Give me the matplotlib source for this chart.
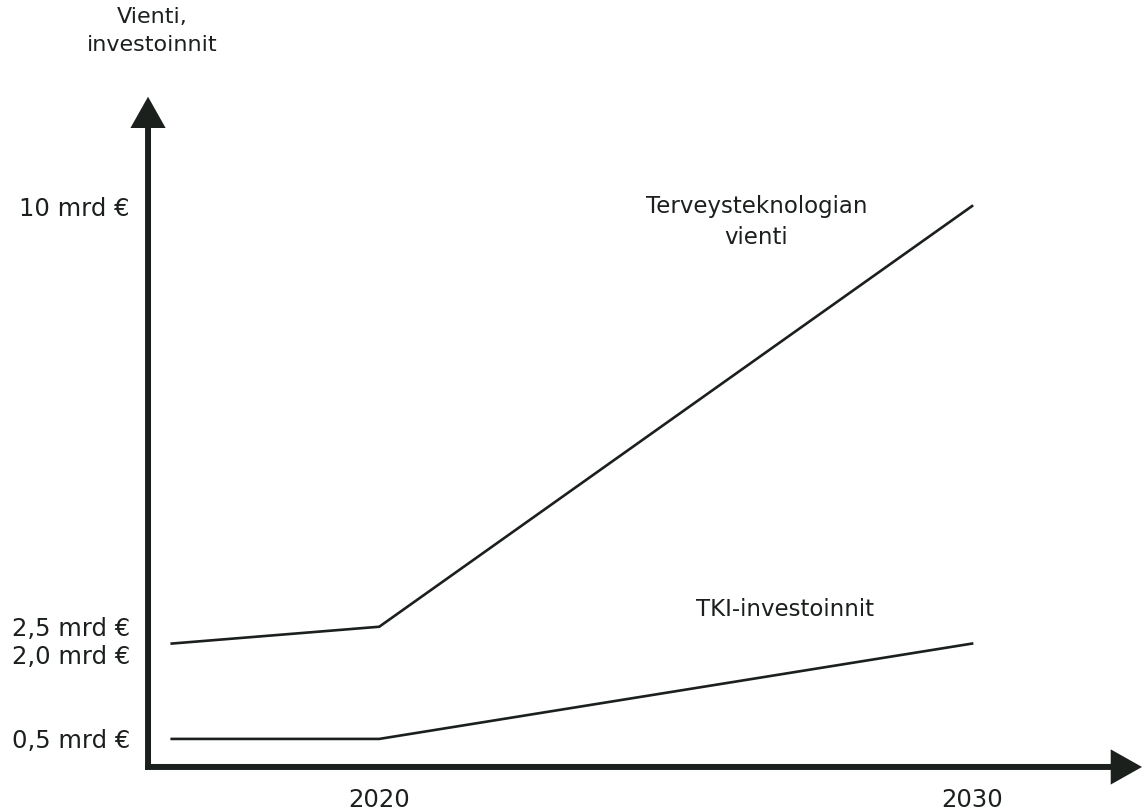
import matplotlib.pyplot as plt

plt.rcParams['font.family'] = ['DejaVu Sans']

INK = '#1b201d'

# schematic values (mrd €)
years = [2016.5, 2020, 2030]
vienti = [2.2, 2.5, 10.0]
tki = [0.5, 0.5, 2.2]

y_ticks = [0.5, 2.0, 2.5, 10.0]
y_labels = ['0,5 mrd €', '2,0 mrd €', '2,5 mrd €', '10 mrd €']
x_ticks = [2020, 2030]
x_labels = ['2020', '2030']

fig = plt.figure(figsize=(11.44, 8.11), dpi=100)
ax = fig.add_axes([0.1294, 0.0543, 0.8706, 0.8348])
ax.set_xlim(2016.1, 2032.9)
ax.set_ylim(0, 12.07)

ax.plot(years, vienti, color=INK, lw=1.9, solid_joinstyle='miter')
ax.plot(years, tki, color=INK, lw=1.9, solid_joinstyle='miter')

for s in ax.spines.values():
    s.set_visible(False)

# axis arrows
arrow = dict(arrowstyle='-|>,head_length=0.8,head_width=0.45', lw=4.3,
             color=INK, mutation_scale=20, shrinkA=0, shrinkB=0,
             joinstyle='miter', capstyle='butt')
ax.annotate('', xy=(0, 0.99), xytext=(0, -0.004), xycoords='axes fraction',
            arrowprops=arrow, annotation_clip=False)
ax.annotate('', xy=(0.998, 0), xytext=(-0.003, 0), xycoords='axes fraction',
            arrowprops=arrow, annotation_clip=False)

ax.set_yticks(y_ticks)
ax.set_yticklabels(y_labels)
ax.set_xticks(x_ticks)
ax.set_xticklabels(x_labels)
ax.tick_params(length=0, labelsize=17.5, colors=INK)
ax.tick_params(axis='y', pad=13)
ax.tick_params(axis='x', pad=15)

ax.text(2026.36, 9.71, 'Terveysteknologian\nvienti', ha='center', va='center',
        fontsize=16.5, color=INK, linespacing=1.45)
ax.text(2026.85, 2.8, 'TKI-investoinnit', ha='center', va='center',
        fontsize=16.5, color=INK)

fig.text(152 / 1144, 1 - 31 / 811, 'Vienti,\ninvestoinnit', ha='center',
         va='center', fontsize=16, color=INK, linespacing=1.45)

fig.savefig('out.png', dpi=100)
